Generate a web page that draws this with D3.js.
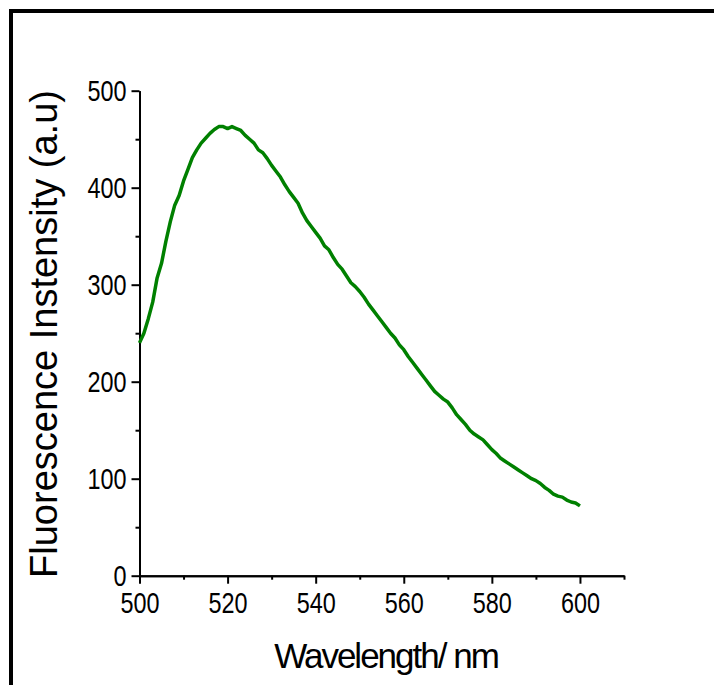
<!DOCTYPE html>
<meta charset="utf-8">
<head>
  <title>Fluorescence spectrum</title>
  <script src="https://d3js.org/d3.v7.min.js"></script>
  <style>
    body { margin: 0; background: #fff; }
    text { font-family: "Liberation Sans", Arial, sans-serif; fill: #000; }
  </style>
</head>
<body>
  <div id="display"></div>
  <script>
    // spectrum, 1 nm steps
    var wavelength = d3.range(500, 601, 1);
    var intensity = [
      240, 250, 265, 282, 307, 322, 345, 365, 382, 392,
      407, 419, 431, 439, 446, 451, 456, 460, 463, 463,
      461, 463, 461, 459, 454, 450, 446, 439, 436, 430,
      423, 417, 411, 403, 396, 390, 384, 374, 366, 360,
      354, 348, 340, 336, 328, 321, 316, 309, 302, 298,
      293, 287, 280, 274, 268, 262, 256, 250, 245, 238,
      233, 226, 220, 214, 208, 202, 196, 190, 186, 182,
      179, 173, 166, 161, 156, 150, 146, 143, 140, 135,
      130, 126, 121, 118, 115, 112, 109, 106, 103, 100,
      98, 95, 91, 88, 84, 82, 81, 78, 76, 75,
      72
    ];
    var xMajor = [500, 520, 540, 560, 580, 600];
    var xMinor = [510, 530, 550, 570, 590, 610];
    var yMajor = [0, 100, 200, 300, 400, 500];
    var yMinor = [50, 150, 250, 350, 450];

    var data = wavelength.map(function(w, i) { return {w: w, v: intensity[i]}; });

    var width = 714, height = 685;

    var svg = d3.select("#display")
      .append("svg")
        .attr("width", width)
        .attr("height", height);

    // outer frame (right and bottom run off the page)
    svg.append("rect")
      .attr("x", 11).attr("y", 11)
      .attr("width", 760).attr("height", 740)
      .attr("fill", "none")
      .attr("stroke", "#000")
      .attr("stroke-width", 4);

    var x = d3.scaleLinear().domain([500, 610]).range([139.5, 624]);
    var y = d3.scaleLinear().domain([0, 500]).range([575.7, 90.7]);

    function squeeze(sel) {
      sel.selectAll("text").each(function() {
        var w = this.getComputedTextLength();
        d3.select(this).attr("textLength", w * 0.78).attr("lengthAdjust", "spacingAndGlyphs");
      });
    }

    function styleAxis(g) {
      g.selectAll("path").attr("stroke", "#000").attr("stroke-width", 2);
      g.selectAll("line").attr("stroke", "#000").attr("stroke-width", 2);
      g.selectAll("text").style("font-size", "30px").attr("fill", "#000");
    }

    // minor ticks
    svg.append("g")
      .attr("transform", "translate(0," + y(0) + ")")
      .call(d3.axisBottom(x).tickValues(xMinor).tickSize(4).tickSizeOuter(0).tickFormat(""))
      .call(styleAxis);
    svg.append("g")
      .attr("transform", "translate(" + x(500) + ",0)")
      .call(d3.axisLeft(y).tickValues(yMinor).tickSize(4).tickSizeOuter(0).tickFormat(""))
      .call(styleAxis);

    // major ticks
    svg.append("g")
      .attr("transform", "translate(0," + y(0) + ")")
      .call(d3.axisBottom(x).tickValues(xMajor).tickSize(8).tickSizeOuter(0).tickPadding(8))
      .call(styleAxis)
      .call(squeeze);
    svg.append("g")
      .attr("transform", "translate(" + x(500) + ",0)")
      .call(d3.axisLeft(y).tickValues(yMajor).tickSize(8).tickSizeOuter(0).tickPadding(5))
      .call(styleAxis)
      .call(squeeze);

    svg.append("path")
      .datum(data)
      .attr("fill", "none")
      .attr("stroke", "#008000")
      .attr("stroke-width", 3.5)
      .attr("stroke-linejoin", "round")
      .attr("d", d3.line()
        .x(function(d) { return x(d.w); })
        .y(function(d) { return y(d.v); }));

    svg.append("text")
      .attr("x", 386).attr("y", 668)
      .attr("text-anchor", "middle")
      .style("font-size", "35px")
      .style("letter-spacing", "-2px")
      .text("Wavelength/ nm");

    svg.append("text")
      .attr("transform", "translate(57,334) rotate(-90)")
      .attr("text-anchor", "middle")
      .style("font-size", "38px")
      .text("Fluorescence Instensity (a.u)");
  </script>
</body>
